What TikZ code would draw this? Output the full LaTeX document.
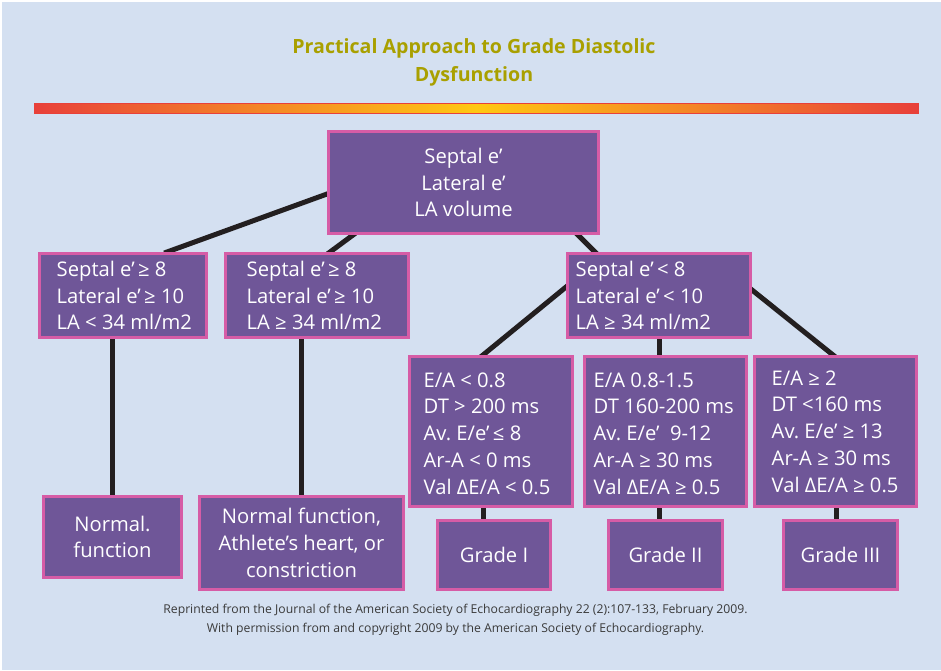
\documentclass[tikz,border=0pt]{standalone}
\usepackage{fontspec}
\setmainfont{Open Sans}
\usetikzlibrary{calc}
\pgfdeclarelayer{bg}
\pgfsetlayers{bg,main}
\definecolor{bgblue}{HTML}{D4E0F1}
\definecolor{boxfill}{HTML}{6F5698}
\definecolor{boxline}{HTML}{D65CA6}
\definecolor{titlecol}{HTML}{A9A000}
\definecolor{barred}{HTML}{E8403A}
\definecolor{baryel}{HTML}{FFC812}
\definecolor{wire}{HTML}{231F20}
\definecolor{notecol}{HTML}{3A3A3A}
\newcommand\boxfont{\fontsize{20.2}{26.8}\selectfont}
\begin{document}
\begin{tikzpicture}[x=1pt,y=-1pt,
  box/.style={draw=boxline,line width=3pt,fill=boxfill,text=white,inner sep=0pt,font=\boxfont,align=center},
  crit/.style={text=white,inner sep=0pt,font=\boxfont,align=left,anchor=west},
  wire/.style={draw=wire,line width=5pt,shorten <=-3pt,shorten >=-3pt}]
\useasboundingbox (0,0) rectangle (941,670);
\begin{pgfonlayer}{bg}
\fill[white] (0,0) rectangle (941,670);
\fill[bgblue] (2,2) rectangle (941,670);
\end{pgfonlayer}
% title and bar
\node[font=\fontsize{19.6}{28}\selectfont\bfseries,text=titlecol,align=center] (title) at (474,62)
  {Practical Approach to Grade Diastolic\\Dysfunction};
\draw[barred,line width=1pt,left color=barred,right color=barred,middle color=baryel] (34,103) rectangle (918,113);
% boxes
\node[box,minimum width=270,minimum height=102] (top) at (463.5,182.5) {Septal e’\\Lateral e’\\LA volume};
\node[box,minimum width=167,minimum height=84] (A) at (123,295.5) {};
\node[box,minimum width=183,minimum height=84] (B) at (317,295.5) {};
\node[box,minimum width=183,minimum height=84] (C) at (659,295.5) {};
\node[box,minimum width=163,minimum height=150] (D) at (491,431.5) {};
\node[box,minimum width=162,minimum height=150] (E) at (665.5,431.5) {};
\node[box,minimum width=162,minimum height=150] (F) at (835.5,431.5) {};
\node[crit] (Atxt) at ([xshift=18.5pt]A.west) {Septal e’\,≥ 8\\Lateral e’\,≥ 10\\LA < 34 ml/m2};
\node[crit] (Btxt) at ([xshift=22.5pt]B.west) {Septal e’\,≥ 8\\Lateral e’\,≥ 10\\LA ≥ 34 ml/m2};
\node[crit] (Ctxt) at ([xshift=9.5pt]C.west) {Septal e’\,< 8\\Lateral e’\,< 10\\LA ≥ 34 ml/m2};
\node[crit] (Dtxt) at ([xshift=15.5pt,yshift=-2pt]D.west) {E/A < 0.8\\DT > 200 ms\\Av.\ E/e’\,≤ 8\\Ar-A < 0 ms\\Val ΔE/A < 0.5};
\node[crit] (Etxt) at ([xshift=10.5pt,yshift=-2pt]E.west) {E/A 0.8-1.5\\DT 160-200 ms\\Av.\ E/e’\ \ 9-12\\Ar-A ≥ 30 ms\\Val ΔE/A ≥ 0.5};
\node[crit] (Ftxt) at ([xshift=18.5pt]F.west) {E/A ≥ 2\\DT <160 ms\\Av.\ E/e’ ≥ 13\\Ar-A ≥ 30 ms\\Val ΔE/A ≥ 0.5};
\node[box,minimum width=138,minimum height=81] (N1) at (112.5,537) {Normal.\\function};
\node[box,minimum width=204,minimum height=93] (N2) at (301.5,543) {Normal function,\\Athlete’s heart, or\\constriction};
\node[box,minimum width=113,minimum height=69] (G1) at (494,555) {Grade I};
\node[box,minimum width=114,minimum height=69] (G2) at (665.5,555) {Grade II};
\node[box,minimum width=114,minimum height=69] (G3) at (840.5,555) {Grade III};
% connectors
\begin{pgfonlayer}{bg}
\draw[wire] ([xshift=44pt]A.north) -- ([yshift=-11.5pt]top.west);
\draw[wire] ([xshift=13pt]B.north) -- ([xshift=-110.5pt]top.south);
\draw[wire] ([xshift=114.5pt]top.south) -- ([xshift=-64pt]C.north);
\draw[wire] ([yshift=8.5pt]C.west) -- ([xshift=-8pt]D.north);
\draw[wire] (C.south) -- (C.south |- E.north);
\draw[wire] ([yshift=5.5pt]C.east) -- ([xshift=-2.5pt]F.north);
\draw[wire] (N1.north) -- (N1.north |- A.south);
\draw[wire] (N2.north) -- (N2.north |- B.south);
\draw[wire] ([xshift=-11pt]G1.north) -- ([xshift=-11pt]G1.north |- D.south);
\draw[wire] ([xshift=-6.5pt]G2.north) -- ([xshift=-6.5pt]G2.north |- E.south);
\draw[wire] ([xshift=-4.5pt]G3.north) -- ([xshift=-4.5pt]G3.north |- F.south);
\end{pgfonlayer}
% source note
\node[font=\fontsize{12.2}{19}\selectfont,text=notecol,align=center] (note) at (455.5,619.5)
  {Reprinted from the Journal of the American Society of Echocardiography 22 (2):107-133, February 2009.\\
   With permission from and copyright 2009 by the American Society of Echocardiography.};
\end{tikzpicture}
\end{document}
